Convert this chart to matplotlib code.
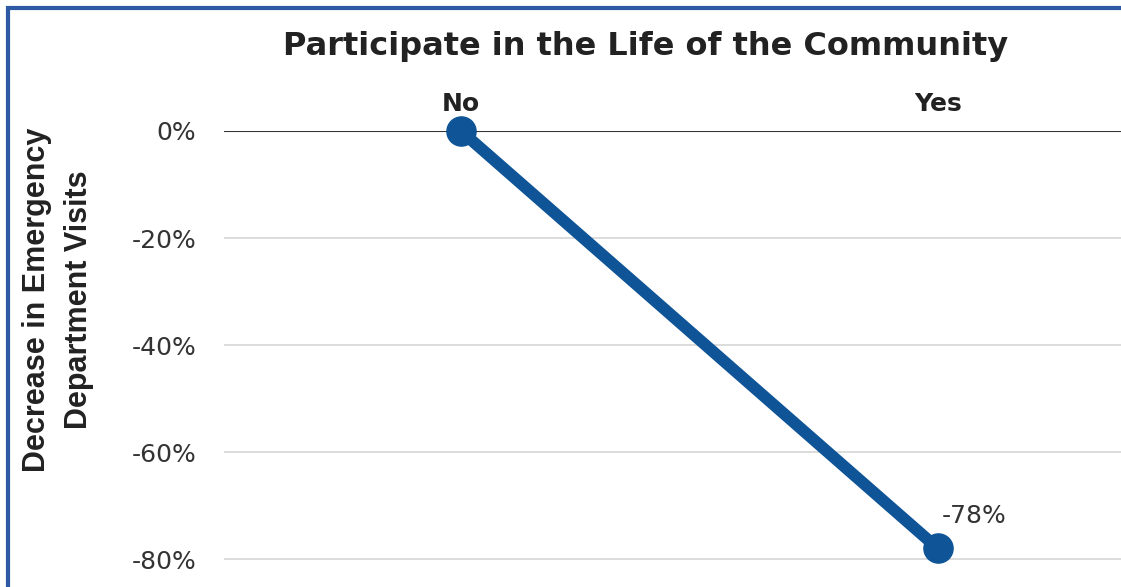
import matplotlib
matplotlib.use('Agg')
import matplotlib.pyplot as plt
from matplotlib.patches import Rectangle

plt.rcParams['font.family'] = ['DejaVu Sans']

categories = ['No', 'Yes']
values = [0, -78]
ytick_vals = [0, -20, -40, -60, -80]
ytick_labels = ['0%', '-20%', '-40%', '-60%', '-80%']

W, H = 1121, 587
fig = plt.figure(figsize=(W / 100, H / 100), dpi=100)

# axes placed in pixel coords (plot area runs off the right/bottom edge)
left, top, bottom = 224, 131, 587
ax = fig.add_axes([left / W, 1 - bottom / H, (W - left) / W, (bottom - top) / H])

x = list(range(len(categories)))
ax.plot(x, values, color='#0E5496', linewidth=8.5, marker='o',
        markersize=21, solid_capstyle='round', zorder=3, clip_on=False)

ax.set_xlim(-0.497, 1.384)
ax.set_ylim(-85.2, 0)

ax.set_yticks(ytick_vals)
ax.set_yticklabels(ytick_labels, fontsize=18, color='#333333')
ax.tick_params(axis='y', length=0, pad=20)
ax.grid(axis='y', color='#D9D9D9', linewidth=1.3)
ax.axhline(0, color='#333333', linewidth=1.5, zorder=2)

ax.xaxis.tick_top()
ax.set_xticks(x)
ax.set_xticklabels(categories, fontsize=18, fontweight='bold', color='#222222')
ax.tick_params(axis='x', length=0, pad=11)

for s in ax.spines.values():
    s.set_visible(False)

ax.annotate(f'{values[1]}%', (x[1], values[1]), xytext=(3, 18),
            textcoords='offset points', fontsize=18, color='#333333')

fig.text(646 / W, 1 - 47 / H, 'Participate in the Life of the Community',
         ha='center', va='center', fontsize=23, fontweight='bold', color='#222222')
fig.text(58 / W, 1 - 300 / H, 'Decrease in Emergency\nDepartment Visits',
         ha='center', va='center', rotation=90, fontsize=22, fontweight='bold',
         color='#222222', linespacing=1.5, family='Liberation Sans')

# blue frame, cut off on the right and bottom
fig.patches.append(Rectangle((8 / W, -0.1), 1.2, 1 - 8 / H + 0.1,
                             transform=fig.transFigure, fill=False,
                             edgecolor='#2E59A3', linewidth=3))

fig.savefig('out.png', dpi=100)
